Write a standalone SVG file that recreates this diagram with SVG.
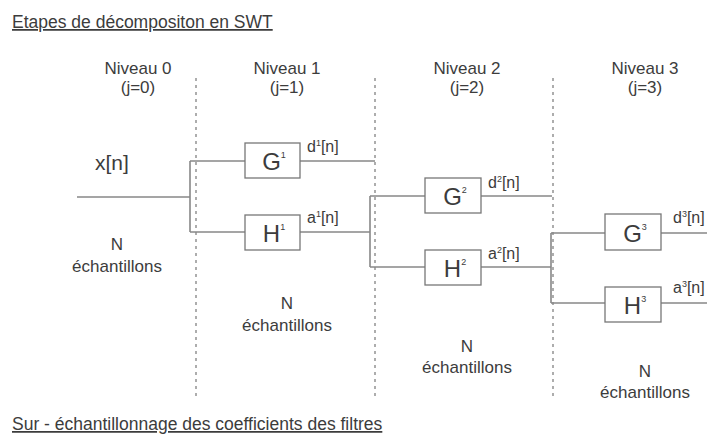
<svg xmlns="http://www.w3.org/2000/svg" width="707" height="438" viewBox="0 0 707 438">
<style>
text{font-family:"Liberation Sans",Arial,sans-serif;fill:#3c3c3c}
.t{font-size:17.5px;text-decoration:underline}
.lv{font-size:17px;text-anchor:middle}
.n{font-size:17px;text-anchor:middle}
.lbl{font-size:16px}
.box rect{fill:#fff;stroke:#777;stroke-width:1.3}
.box text{font-size:24px;text-anchor:middle}
.sup{font-size:9px}
.ln{stroke:#888;stroke-width:1.6;fill:none}
.dash{stroke:#999;stroke-width:1.6;stroke-dasharray:3 4;fill:none}
</style>
<rect width="707" height="438" fill="#fff"/>
<text class="t" x="12" y="28">Etapes de décompositon en SWT</text>
<text class="t" x="12" y="430">Sur - échantillonnage des coefficients des filtres</text>
<g id="separators">
<line class="dash" x1="196" y1="78" x2="196" y2="400"/>
<line class="dash" x1="375" y1="78" x2="375" y2="400"/>
<line class="dash" x1="553" y1="78" x2="553" y2="400"/>
</g>
<g id="levels">
<text class="lv" x="138" y="74">Niveau 0</text><text class="lv" x="138" y="93">(j=0)</text>
<text class="lv" x="287" y="74">Niveau 1</text><text class="lv" x="287" y="93">(j=1)</text>
<text class="lv" x="467" y="74">Niveau 2</text><text class="lv" x="467" y="93">(j=2)</text>
<text class="lv" x="645" y="74">Niveau 3</text><text class="lv" x="645" y="93">(j=3)</text>
</g>
<g id="samples">
<text class="n" x="117" y="250">N</text><text class="n" x="117" y="272">échantillons</text>
<text class="n" x="287" y="309">N</text><text class="n" x="287" y="331">échantillons</text>
<text class="n" x="467" y="352">N</text><text class="n" x="467" y="373">échantillons</text>
<text class="n" x="645" y="377">N</text><text class="n" x="645" y="398">échantillons</text>
</g>
<text id="input" x="95" y="170" style="font-size:21px">x[n]</text>
<g id="connectors">
<path class="ln" d="M77 197H190M190 161V232M190 161H245M190 232H245"/>
<path class="ln" d="M300 161H375M300 232H370M370 196V267M370 196H425M370 267H425"/>
<path class="ln" d="M481 196H552M481 267H551M551 233V303M551 233H605M551 303H605"/>
<path class="ln" d="M661 233H707M661 303H707"/>
</g>
<g id="labels">
<text class="lbl" x="307" y="152">d<tspan class="sup" dy="-6">1</tspan><tspan dy="6">[n]</tspan></text>
<text class="lbl" x="307" y="223">a<tspan class="sup" dy="-6">1</tspan><tspan dy="6">[n]</tspan></text>
<text class="lbl" x="488" y="188">d<tspan class="sup" dy="-6">2</tspan><tspan dy="6">[n]</tspan></text>
<text class="lbl" x="488" y="259">a<tspan class="sup" dy="-6">2</tspan><tspan dy="6">[n]</tspan></text>
<text class="lbl" x="673" y="223">d<tspan class="sup" dy="-6">3</tspan><tspan dy="6">[n]</tspan></text>
<text class="lbl" x="673" y="293">a<tspan class="sup" dy="-6">3</tspan><tspan dy="6">[n]</tspan></text>
</g>
<g id="G1" class="box"><rect x="245" y="143" width="55" height="35"/><text x="274" y="170">G<tspan class="sup" dy="-12">1</tspan></text></g>
<g id="H1" class="box"><rect x="245" y="215" width="55" height="35"/><text x="274" y="242">H<tspan class="sup" dy="-12">1</tspan></text></g>
<g id="G2" class="box"><rect x="425" y="178" width="56" height="35"/><text x="455" y="205">G<tspan class="sup" dy="-12">2</tspan></text></g>
<g id="H2" class="box"><rect x="425" y="250" width="56" height="35"/><text x="455" y="277">H<tspan class="sup" dy="-12">2</tspan></text></g>
<g id="G3" class="box"><rect x="605" y="214" width="56" height="36"/><text x="635" y="242">G<tspan class="sup" dy="-12">3</tspan></text></g>
<g id="H3" class="box"><rect x="605" y="287" width="56" height="35"/><text x="635" y="314">H<tspan class="sup" dy="-12">3</tspan></text></g>
</svg>
